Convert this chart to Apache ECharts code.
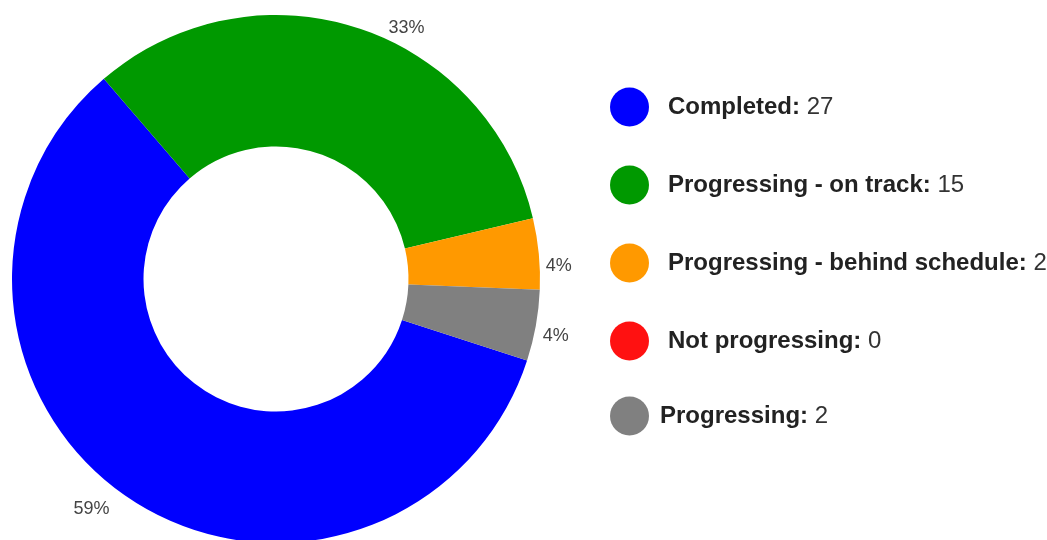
<!DOCTYPE html>
<html>
<head>
<meta charset="utf-8">
<script src="https://cdn.jsdelivr.net/npm/echarts@6/dist/echarts.min.js"></script>
<style>
html,body{margin:0;padding:0;background:#fff;}
#chart{width:1047px;height:540px;}
</style>
</head>
<body>
<div id="chart"></div>
<script>
const categories = ['Completed', 'Progressing - on track', 'Progressing - behind schedule', 'Not progressing', 'Progressing'];
const values = [27, 15, 2, 0, 2];
const colors = ['#0000FF', '#009900', '#FF9900', '#FF1111', '#808080'];

// label styling per slice (line lengths / vertical nudge), index-aligned with categories
const labelLineStyles = [
  { length: 11, length2: 14 },
  { length: 0, length2: 31 },
  { length: 0, length2: 7 },
  { length: 0, length2: 7 },
  { length: 0, length2: 7 }
];
const labelNudgeY = [1, 0, 12, 0, 10];

const total = values.reduce((a, b) => a + b, 0);
const valueOf = {};
categories.forEach((c, i) => { valueOf[c] = values[i]; });

const data = categories.map((name, i) => ({
  name: name,
  value: values[i],
  itemStyle: { color: colors[i] },
  label: { show: values[i] > 0 },
  labelLine: { show: false, length: labelLineStyles[i].length, length2: labelLineStyles[i].length2 }
}));

const FONT = 'Liberation Sans, Arial, Helvetica, sans-serif';
const legendText = {
  fontFamily: FONT,
  rich: {
    b: { fontWeight: 'bold', fontSize: 24, color: '#222', fontFamily: FONT },
    v: { fontWeight: 'normal', fontSize: 24, color: '#333', fontFamily: FONT }
  }
};
const fmt = name => '{b|' + name + ':}{v| ' + valueOf[name] + '}';

const chart = echarts.init(document.getElementById('chart'));
chart.setOption({
  animation: false,
  legend: [
    {
      orient: 'vertical',
      left: 610,
      top: 87.5,
      padding: 0,
      itemWidth: 39,
      itemHeight: 39,
      itemGap: 39,
      icon: 'circle',
      data: categories.slice(0, 4),
      formatter: fmt,
      textStyle: Object.assign({ padding: [0, 0, 0, 14] }, legendText)
    },
    {
      orient: 'vertical',
      left: 610,
      top: 396.5,
      padding: 0,
      itemWidth: 39,
      itemHeight: 39,
      icon: 'circle',
      data: categories.slice(4),
      formatter: fmt,
      textStyle: Object.assign({ padding: [0, 0, 0, 6] }, legendText)
    }
  ],
  series: [{
    type: 'pie',
    center: [276, 279],
    radius: [132.5, 264],
    startAngle: -18,
    clockwise: true,
    avoidLabelOverlap: false,
    label: {
      position: 'outside',
      distanceToLabelLine: 0,
      fontSize: 18,
      color: '#444',
      fontFamily: FONT,
      formatter: p => Math.round(p.value / total * 100) + '%'
    },
    labelLayout: p => ({ dy: labelNudgeY[p.dataIndex] }),
    emphasis: { disabled: true },
    data: data
  }]
});
</script>
</body>
</html>
